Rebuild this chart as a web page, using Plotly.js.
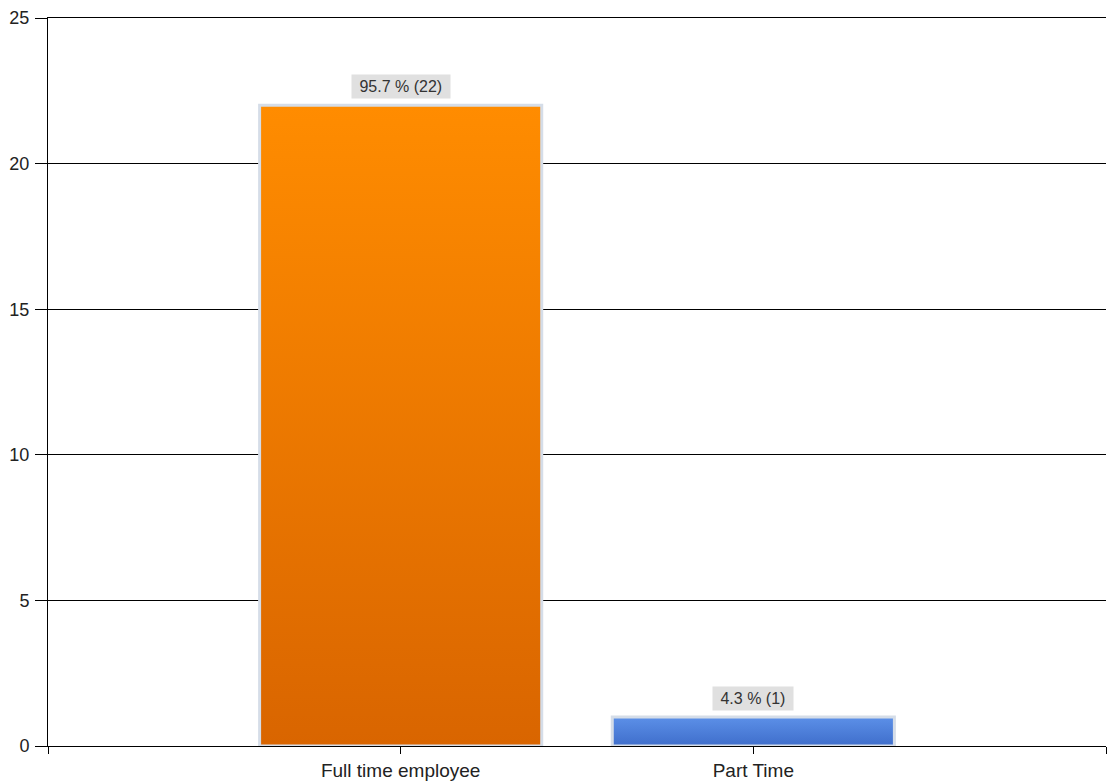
<!DOCTYPE html>
<html>
<head>
<meta charset="utf-8">
<script src="https://cdn.plot.ly/plotly-3.0.1.min.js"></script>
<style>
html,body{margin:0;padding:0;background:#fff;}
#chart{width:1107px;height:784px;}
</style>
</head>
<body>
<div id="chart"></div>
<script>
const categories = ["Full time employee", "Part Time"];
const counts = [22, 1];
const percents = [95.7, 4.3];
const barTopColors = ["#FF8C00", "#5C90E8"];
const barBottomColors = ["#D96500", "#3F6ECB"];
const barMidColors = ["#EE7A00", "#4D7FD9"];

const xs = categories.map((c, i) => i);

const trace = {
  type: "bar",
  x: xs,
  y: counts,
  width: 0.8,
  marker: {
    color: barMidColors,
    line: {color: "#D5DDE8", width: 3}
  },
  hoverinfo: "none"
};

const annotations = categories.map((c, i) => ({
  x: xs[i],
  y: counts[i],
  xref: "x",
  yref: "y",
  text: "\u00a0" + percents[i].toFixed(1) + " % (" + counts[i] + ")\u00a0",
  showarrow: false,
  yanchor: "bottom",
  yshift: 6,
  bgcolor: "#E0E0E0",
  borderpad: 3,
  font: {family: "Liberation Sans, Arial, sans-serif", size: 16, color: "#333333"}
}));

const layout = {
  width: 1107,
  height: 784,
  margin: {l: 48, r: 1, t: 18, b: 38},
  paper_bgcolor: "#ffffff",
  plot_bgcolor: "#ffffff",
  showlegend: false,
  xaxis: {
    type: "linear",
    range: [-1, 2],
    tickvals: [-1].concat(xs, [categories.length]),
    ticktext: [""].concat(categories, [""]),
    ticks: "outside",
    ticklen: 7,
    tickcolor: "#000",
    tickwidth: 1,
    showgrid: false,
    zeroline: false,
    showline: true,
    linecolor: "#000",
    linewidth: 1,
    mirror: true,
    tickfont: {family: "Liberation Sans, Arial, sans-serif", size: 19, color: "#222"}
  },
  yaxis: {
    range: [0, 25],
    dtick: 5,
    tick0: 0,
    ticks: "outside",
    ticklen: 12,
    tickcolor: "#000",
    tickwidth: 1,
    showgrid: true,
    gridcolor: "#000",
    gridwidth: 1,
    zeroline: false,
    showline: true,
    linecolor: "#000",
    linewidth: 1,
    ticklabelstandoff: 2,
    tickfont: {family: "Liberation Sans, Arial, sans-serif", size: 18, color: "#222"}
  },
  annotations: annotations
};

Plotly.newPlot("chart", [trace], layout, {displayModeBar: false, staticPlot: true}).then(gd => {
  const svg = gd.querySelector("svg.main-svg");
  let defs = svg.querySelector("defs");
  const ns = "http://www.w3.org/2000/svg";
  if (!defs) { defs = document.createElementNS(ns, "defs"); svg.insertBefore(defs, svg.firstChild); }
  categories.forEach((c, i) => {
    const g = document.createElementNS(ns, "linearGradient");
    g.setAttribute("id", "bargrad" + i);
    g.setAttribute("x1", "0"); g.setAttribute("y1", "0");
    g.setAttribute("x2", "0"); g.setAttribute("y2", "1");
    const s1 = document.createElementNS(ns, "stop");
    s1.setAttribute("offset", "0"); s1.setAttribute("stop-color", barTopColors[i]);
    const s2 = document.createElementNS(ns, "stop");
    s2.setAttribute("offset", "1"); s2.setAttribute("stop-color", barBottomColors[i]);
    g.appendChild(s1); g.appendChild(s2);
    defs.appendChild(g);
  });
  gd.querySelectorAll(".bars .point path").forEach((p, i) => {
    p.style.fill = "url(#bargrad" + i + ")";
  });
});
</script>
</body>
</html>
